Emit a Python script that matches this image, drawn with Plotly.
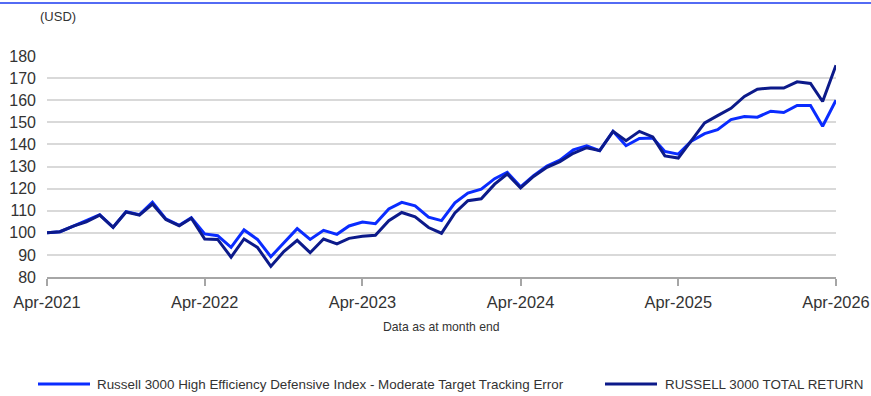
import pandas as pd
import plotly.graph_objects as go

# Monthly index levels, rebased to 100 at Apr-2021
months = pd.date_range(start="2021-04-01", periods=61, freq="MS")

hedi_values = [
    100.0, 100.5, 103.0, 105.5, 108.2, 102.5, 109.6, 108.2, 113.8, 106.3, 103.4, 106.8,
    99.5, 98.7, 93.4, 101.3, 97.0, 89.2, 95.5, 101.9, 97.0, 101.1, 99.3, 103.1,
    104.9, 104.1, 110.8, 113.8, 112.2, 107.1, 105.5, 113.6, 118.0, 119.7, 124.5, 127.4,
    120.8, 125.9, 130.2, 132.9, 137.5, 139.4, 137.2, 145.9, 139.4, 142.7, 142.9, 136.8,
    135.6, 141.5, 144.9, 146.7, 151.2, 152.6, 152.3, 155.0, 154.4, 157.6, 157.6, 148.2,
    160.0,
]

russell_values = [
    100.0, 100.5, 103.0, 105.0, 108.0, 102.5, 109.4, 108.0, 113.0, 106.0, 103.2, 106.6,
    97.2, 97.0, 89.0, 97.2, 93.4, 84.8, 91.5, 96.6, 91.0, 97.2, 95.0, 97.5,
    98.4, 98.9, 105.5, 109.2, 107.2, 102.4, 99.8, 109.0, 114.5, 115.4, 122.0, 126.6,
    120.3, 125.5, 129.6, 132.2, 136.0, 138.5, 137.2, 145.9, 141.7, 145.9, 143.4, 134.8,
    133.8, 141.5, 149.7, 153.0, 156.3, 161.7, 165.0, 165.5, 165.5, 168.3, 167.6, 159.4,
    175.8,
]

series_names = [
    "Russell 3000 High Efficiency Defensive Index - Moderate Target Tracking Error",
    "RUSSELL 3000 TOTAL RETURN",
]
series_colors = ["#0A2CFF", "#0C1A8A"]

y_ticks = [80, 90, 100, 110, 120, 130, 140, 150, 160, 170, 180]

W, H = 871, 396
ML, MR, MT, MB = 47, 35, 56, 119
PW = W - ML - MR
PH = H - MT - MB


def px_x(p):
    return (p - ML) / PW


def px_y(p):
    return (H - MB - p) / PH


FONT = "Liberation Sans, Arial, sans-serif"
TEXT = "#333333"

fig = go.Figure()
for vals, name, color in zip([hedi_values, russell_values], series_names, series_colors):
    fig.add_trace(go.Scatter(
        x=months, y=vals, mode="lines", name=name,
        line=dict(color=color, width=3), showlegend=False, hoverinfo="skip",
    ))

shapes = [
    # top rule
    dict(type="line", xref="paper", yref="paper",
         x0=px_x(0), x1=px_x(W), y0=px_y(3), y1=px_y(3),
         line=dict(color="#1A3AF0", width=1.5)),
]
annotations = [
    dict(text="(USD)", xref="paper", yref="paper", x=px_x(38), y=px_y(17),
         xanchor="left", yanchor="middle", showarrow=False,
         font=dict(family=FONT, size=13, color=TEXT)),
    dict(text="Data as at month end", xref="paper", yref="paper", x=px_x(441), y=px_y(327),
         xanchor="center", yanchor="middle", showarrow=False,
         font=dict(family=FONT, size=12.2, color=TEXT)),
]

# legend drawn below the chart
legend_items = [(38, 90, 95), (605, 657, 663)]
for (lx0, lx1, tx), name, color in zip(legend_items, series_names, series_colors):
    shapes.append(dict(type="line", xref="paper", yref="paper",
                       x0=px_x(lx0), x1=px_x(lx1), y0=px_y(384), y1=px_y(384),
                       line=dict(color=color, width=3)))
    annotations.append(dict(text=name, xref="paper", yref="paper", x=px_x(tx), y=px_y(384),
                            xanchor="left", yanchor="middle", showarrow=False,
                            font=dict(family=FONT, size=13.4, color=TEXT)))

fig.update_layout(
    width=W, height=H,
    margin=dict(l=ML, r=MR, t=MT, b=MB, pad=0, autoexpand=False),
    paper_bgcolor="white", plot_bgcolor="white",
    font=dict(family=FONT, size=16, color=TEXT),
    shapes=shapes, annotations=annotations,
    showlegend=False,
    xaxis=dict(
        type="date", range=[months[0], months[-1]],
        tick0=months[0], dtick="M12", tickformat="%b-%Y",
        showgrid=False, showline=True, linecolor="#A6A6A6", linewidth=1.5,
        ticks="outside", ticklen=7, tickcolor="#A6A6A6", tickwidth=1.5,
        tickfont=dict(family=FONT, size=16.4, color=TEXT),
        ticklabelstandoff=3, zeroline=False, automargin=False,
    ),
    yaxis=dict(
        range=[80, 180], tickvals=y_ticks,
        showgrid=True, gridcolor="#D9D9D9", gridwidth=1.5,
        showline=False, zeroline=False, ticks="",
        tickfont=dict(family=FONT, size=16, color=TEXT),
        ticklabelstandoff=10, automargin=False,
    ),
)

fig.write_html("out.html", config={"displayModeBar": False})
